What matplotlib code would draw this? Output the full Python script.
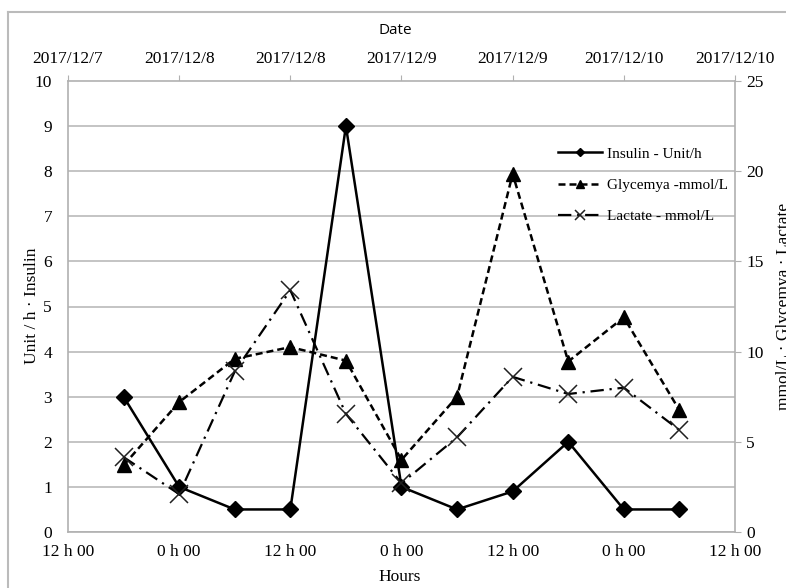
import matplotlib
matplotlib.use("Agg")
import matplotlib.pyplot as plt
from matplotlib.lines import Line2D

# ---- data ----
hours = [6, 12, 18, 24, 30, 36, 42, 48, 54, 60, 66]
insulin = [3.0, 1.0, 0.5, 0.5, 9.0, 1.0, 0.5, 0.9, 2.0, 0.5, 0.5]
glycemya = [3.7, 7.2, 9.6, 10.25, 9.5, 4.0, 7.5, 19.85, 9.45, 11.9, 6.75]
lactate = [4.15, 2.1, 8.9, 13.4, 6.55, 2.7, 5.25, 8.6, 7.65, 8.0, 5.65]

bottom_ticks = [0, 12, 24, 36, 48, 60, 72]
bottom_labels = ["12 h 00", "0 h 00", "12 h 00", "0 h 00", "12 h 00", "0 h 00", "12 h 00"]
top_labels = ["2017/12/7", "2017/12/8", "2017/12/8", "2017/12/9",
              "2017/12/9", "2017/12/10", "2017/12/10"]

SERIF = "Liberation Serif"
GRAY = "#B0B0B0"
FS = 12.5

fig = plt.figure(figsize=(7.86, 5.88), dpi=100)
W, H = 786, 588
ax = fig.add_axes([68 / W, 1 - 532 / H, (735 - 68) / W, (532 - 81) / H])

ax.set_xlim(0, 72)
ax.set_ylim(0, 10)
ax.set_yticks(range(0, 11))
ax.set_xticks(bottom_ticks)
ax.set_xticklabels(bottom_labels, fontfamily=SERIF, fontsize=FS)
for lbl in ax.get_yticklabels():
    lbl.set_fontfamily(SERIF)
    lbl.set_fontsize(FS)
ax.tick_params(axis="y", length=0, pad=11.5)
ax.tick_params(axis="x", length=0, pad=9)
ax.grid(axis="y", color="#BFBFBF", lw=1.3)
ax.set_axisbelow(True)
for s in ["left", "bottom"]:
    ax.spines[s].set_color(GRAY)
    ax.spines[s].set_linewidth(1.2)
ax.spines["top"].set_visible(False)
ax.spines["right"].set_visible(False)

l1, = ax.plot(hours, insulin, color="black", lw=1.8, marker="D", ms=8,
              label="Insulin - Unit/h", zorder=3)

ax2 = ax.twinx()
ax2.set_ylim(0, 25)
ax2.set_yticks(range(0, 26, 5))
for lbl in ax2.get_yticklabels():
    lbl.set_fontfamily(SERIF)
    lbl.set_fontsize(FS)
ax2.tick_params(axis="y", direction="out", length=4, color=GRAY, pad=4)
ax2.spines["right"].set_color(GRAY)
ax2.spines["right"].set_linewidth(1.2)
for s in ["left", "top", "bottom"]:
    ax2.spines[s].set_visible(False)

l2, = ax2.plot(hours, glycemya, color="black", lw=1.8, ls=(0, (2.8, 1.6)),
               marker="^", ms=10, label="Glycemya -mmol/L")
l3, = ax2.plot(hours, lactate, color="black", lw=1.6, ls=(0, (6, 2.6, 1, 2.6)),
               marker="x", ms=13, mew=1.1, mec="#202020", label="Lactate - mmol/L")

sec = ax.secondary_xaxis("top")
sec.set_xticks(bottom_ticks)
sec.set_xticklabels(top_labels, fontfamily=SERIF, fontsize=FS)
sec.tick_params(axis="x", direction="out", length=4, color=GRAY, pad=6)
sec.spines["top"].set_color(GRAY)
sec.spines["top"].set_linewidth(1.2)

leg = ax2.legend(handles=[l1, l2, l3], loc="upper left",
                 bbox_to_anchor=((558 - 68) / 667, (532 - 147) / 451),
                 frameon=False, prop={"family": SERIF, "size": 11},
                 handlelength=2.9, handletextpad=0.3, labelspacing=1.15,
                 borderpad=0, borderaxespad=0, markerscale=0.55)

fig.text(395 / W, 1 - 30 / H, "Date", ha="center", va="center",
         fontfamily="Open Sans", fontsize=11)
fig.text(400 / W, 1 - 577 / H, "Hours", ha="center", va="center",
         fontfamily=SERIF, fontsize=FS)
fig.text(32 / W, 1 - 306 / H, "Unit / h \u00b7 Insulin", ha="center", va="center",
         rotation=90, fontfamily=SERIF, fontsize=FS)
fig.text(776 / W, 1 - 306 / H, "mmol/L \u00b7 Glycemya \u00b7 Lactate", ha="left",
         va="center", rotation=90, fontfamily=SERIF, fontsize=FS)

# figure border
fig.add_artist(Line2D([8 / W, 8 / W], [0, 1 - 12 / H], transform=fig.transFigure,
                      color="#BBBBBB", lw=1.5))
fig.add_artist(Line2D([8 / W, 1], [1 - 12 / H, 1 - 12 / H], transform=fig.transFigure,
                      color="#BBBBBB", lw=1.5))

fig.savefig("out.png", dpi=100)
